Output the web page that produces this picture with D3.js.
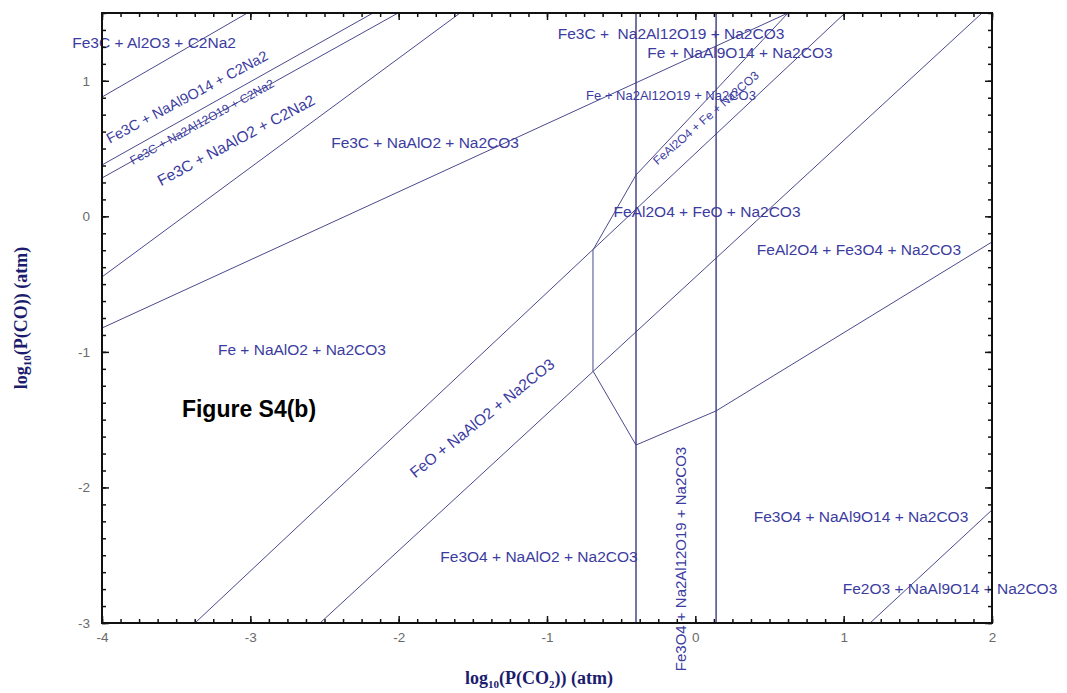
<!DOCTYPE html>
<html>
<head>
<meta charset="utf-8">
<script src="https://cdn.jsdelivr.net/npm/d3@7"></script>
<style>
  html, body { margin: 0; padding: 0; background: #fff; }
  svg { display: block; }
</style>
</head>
<body>
<svg id="chart" width="1067" height="693"></svg>
<script>
// Predominance diagram: Fe–Al–Na–C–O system, log P(CO) vs log P(CO2)

const xDomain = [-4, 2];
const yDomain = [-3, 1.5];
const xTickValues = [-4, -3, -2, -1, 0, 1, 2];
const yTickValues = [-3, -2, -1, 0, 1];
const minorStep = 0.125;

// Phase boundaries, each as [log P(CO2), log P(CO)] vertices
const bndAl2O3 = [[-4, 0.88], [-3.02, 1.5]];
const bndNaAl9O14 = [[-4, 0.379], [-2.173, 1.5]];
const bndNa2Al12O19 = [[-4, 0.283], [-2.004, 1.5]];
const bndC2Na2 = [[-4, -0.447], [-1.586, 1.5]];
const bndFe3CFe = [[-4, -0.824], [0.625, 1.5]];
const bndFeFeO = [[-3.373, -3], [1.009, 1.5]];
const bndFeOFe3O4 = [[-2.53, -3], [1.933, 1.5]];
const bndFeAl2O4 = [[-0.69, -0.248], [-0.40, 0.305], [0.625, 1.5]];
const bndNaAlO2Split = [[-0.69, -0.248], [-0.69, -1.141]];
const bndFe3O4Upper = [[-0.69, -1.141], [-0.40, -1.687], [0.139, -1.436], [2, -0.189]];
const bndFe2O3 = [[1.178, -3], [2, -2.166]];
const vertNa2Al12O19 = [[-0.40, -3], [-0.40, 1.5]];
const vertNaAl9O14 = [[0.14, -3], [0.14, 1.5]];

const boundaries = [bndAl2O3, bndNaAl9O14, bndNa2Al12O19, bndC2Na2, bndFe3CFe,
  bndFeFeO, bndFeOFe3O4, bndFeAl2O4, bndNaAlO2Split, bndFe3O4Upper, bndFe2O3];
const verticals = [vertNa2Al12O19, vertNaAl9O14];

// Field names with anchor point (data units), rotation and size
const fieldNames = ["Fe3C + Al2O3 + C2Na2", "Fe3C + NaAl9O14 + C2Na2", "Fe3C + Na2Al12O19 + C2Na2",
  "Fe3C + NaAlO2 + C2Na2", "Fe3C + NaAlO2 + Na2CO3", "Fe3C +  Na2Al12O19 + Na2CO3",
  "Fe + NaAl9O14 + Na2CO3", "Fe + Na2Al12O19 + Na2CO3", "FeAl2O4 + Fe + Na2CO3",
  "FeAl2O4 + FeO + Na2CO3", "FeAl2O4 + Fe3O4 + Na2CO3", "Fe + NaAlO2 + Na2CO3",
  "FeO + NaAlO2 + Na2CO3", "Fe3O4 + NaAlO2 + Na2CO3", "Fe3O4 + Na2Al12O19 + Na2CO3",
  "Fe3O4 + NaAl9O14 + Na2CO3", "Fe2O3 + NaAl9O14 + Na2CO3"];
const fieldAnchors = [[-3.649, 1.286], [-3.427, 0.880], [-3.326, 0.696],
  [-3.097, 0.563], [-1.822, 0.548], [-0.164, 1.352],
  [0.301, 1.212], [-0.164, 0.895], [0.072, 0.725],
  [0.079, 0.032], [1.103, -0.248], [-2.652, -0.986],
  [-1.438, -1.488], [-1.054, -2.513], [-0.103, -2.528],
  [1.117, -2.218], [1.717, -2.742]];
const fieldAngles = [0, -28, -29, -28, 0, 0, 0, 0, -41, 0, 0, 0, -38.7, 0, -90, 0, 0];
const fieldSizes = [15.5, 14.5, 12, 15.5, 15.5, 15.5, 15.5, 13, 12, 15.5, 15.5, 15.5, 15.5, 15.5, 15, 15.5, 15.5];

const svg = d3.select("#chart");
const margin = { left: 102, right: 1067 - 992, top: 13, bottom: 693 - 623 };
const W = 1067, H = 693;

const x = d3.scaleLinear().domain(xDomain).range([margin.left, W - margin.right]);
const y = d3.scaleLinear().domain(yDomain).range([H - margin.bottom, margin.top]);

const lineColor = "#4a4a8e";
const textColor = "#3b3ba0";
const sansFont = "'Liberation Sans', Arial, sans-serif";
const serifFont = "'Liberation Serif', 'Times New Roman', serif";

// Clip region for boundaries
svg.append("defs").append("clipPath").attr("id", "plotClip")
  .append("rect")
  .attr("x", x(xDomain[0])).attr("y", y(yDomain[1]))
  .attr("width", x(xDomain[1]) - x(xDomain[0]))
  .attr("height", y(yDomain[0]) - y(yDomain[1]));

const line = d3.line().x(d => x(d[0])).y(d => y(d[1]));
const plot = svg.append("g").attr("clip-path", "url(#plotClip)");

plot.selectAll("path.bnd").data(boundaries).join("path")
  .attr("class", "bnd")
  .attr("d", line)
  .attr("fill", "none")
  .attr("stroke", lineColor)
  .attr("stroke-width", 1);

plot.selectAll("path.vert").data(verticals).join("path")
  .attr("class", "vert")
  .attr("d", line)
  .attr("fill", "none")
  .attr("stroke", "#3a3a7e")
  .attr("stroke-width", 1.4);

// Field labels
const labels = svg.append("g");
fieldNames.forEach((name, i) => {
  const [ax, ay] = fieldAnchors[i];
  labels.append("text")
    .attr("transform", `translate(${x(ax)},${y(ay)}) rotate(${fieldAngles[i]})`)
    .attr("text-anchor", "middle")
    .attr("dominant-baseline", "central")
    .attr("font-family", sansFont)
    .attr("font-size", fieldSizes[i])
    .attr("fill", textColor)
    .style("white-space", "pre")
    .text(name);
});

// Axes: ticks pointing inward on all four sides
const xMinor = d3.range(xDomain[0], xDomain[1] + 1e-9, minorStep);
const yMinor = d3.range(yDomain[0], yDomain[1] + 1e-9, minorStep);
const plainNumber = d => String(d);

const xAxisBottom = d3.axisBottom(x).tickValues(xTickValues).tickSize(-7).tickFormat(plainNumber);
const xAxisTop = d3.axisTop(x).tickValues(xTickValues).tickSize(-7).tickFormat("");
const yAxisLeft = d3.axisLeft(y).tickValues(yTickValues).tickSize(-7).tickFormat(plainNumber);
const yAxisRight = d3.axisRight(y).tickValues(yTickValues).tickSize(-7).tickFormat("");

function styleAxis(g) {
  g.select(".domain").remove();
  g.selectAll(".tick line").attr("stroke", "#111").attr("stroke-width", 1.5);
  g.selectAll(".tick text")
    .attr("font-family", sansFont)
    .attr("font-size", 13.5)
    .attr("fill", "#6a6a6a");
}

const gxB = svg.append("g").attr("transform", `translate(0,${y(yDomain[0])})`).call(xAxisBottom).call(styleAxis);
gxB.selectAll(".tick text").attr("dy", "1.2em");
svg.append("g").attr("transform", `translate(0,${y(yDomain[1])})`).call(xAxisTop).call(styleAxis);
const gyL = svg.append("g").attr("transform", `translate(${x(xDomain[0])},0)`).call(yAxisLeft).call(styleAxis);
gyL.selectAll(".tick text").attr("x", -12);
svg.append("g").attr("transform", `translate(${x(xDomain[1])},0)`).call(yAxisRight).call(styleAxis);

// Minor ticks
const minorX = d3.axisBottom(x).tickValues(xMinor).tickSize(-4).tickFormat("");
const minorXT = d3.axisTop(x).tickValues(xMinor).tickSize(-4).tickFormat("");
const minorY = d3.axisLeft(y).tickValues(yMinor).tickSize(-4).tickFormat("");
const minorYR = d3.axisRight(y).tickValues(yMinor).tickSize(-4).tickFormat("");
svg.append("g").attr("transform", `translate(0,${y(yDomain[0])})`).call(minorX).call(styleAxis);
svg.append("g").attr("transform", `translate(0,${y(yDomain[1])})`).call(minorXT).call(styleAxis);
svg.append("g").attr("transform", `translate(${x(xDomain[0])},0)`).call(minorY).call(styleAxis);
svg.append("g").attr("transform", `translate(${x(xDomain[1])},0)`).call(minorYR).call(styleAxis);

// Frame
svg.append("rect")
  .attr("x", x(xDomain[0])).attr("y", y(yDomain[1]))
  .attr("width", x(xDomain[1]) - x(xDomain[0]))
  .attr("height", y(yDomain[0]) - y(yDomain[1]))
  .attr("fill", "none").attr("stroke", "#111").attr("stroke-width", 2);

// Axis titles
const titleColor = "#1c1c6e";
const xTitle = svg.append("text")
  .attr("x", (x(xDomain[0]) + x(xDomain[1])) / 2 - 8)
  .attr("y", 684)
  .attr("text-anchor", "middle")
  .attr("font-family", serifFont).attr("font-weight", "bold").attr("font-size", 18)
  .attr("fill", titleColor);
xTitle.append("tspan").text("log");
xTitle.append("tspan").attr("font-size", 11).attr("dy", 4).text("10");
xTitle.append("tspan").attr("dy", -4).text("(P(CO");
xTitle.append("tspan").attr("font-size", 11).attr("dy", 4).text("2");
xTitle.append("tspan").attr("dy", -4).text(")) (atm)");

const yTitle = svg.append("text")
  .attr("transform", `translate(27,${(y(yDomain[0]) + y(yDomain[1])) / 2}) rotate(-90)`)
  .attr("text-anchor", "middle")
  .attr("font-family", serifFont).attr("font-weight", "bold").attr("font-size", 18)
  .attr("fill", titleColor);
yTitle.append("tspan").text("log");
yTitle.append("tspan").attr("font-size", 11).attr("dy", 4).text("10");
yTitle.append("tspan").attr("dy", -4).text("(P(CO)) (atm)");

// Panel caption
svg.append("text")
  .attr("x", 249).attr("y", 409)
  .attr("text-anchor", "middle")
  .attr("dominant-baseline", "central")
  .attr("font-family", sansFont).attr("font-weight", "bold").attr("font-size", 23)
  .attr("fill", "#000")
  .text("Figure S4(b)");
</script>
</body>
</html>
